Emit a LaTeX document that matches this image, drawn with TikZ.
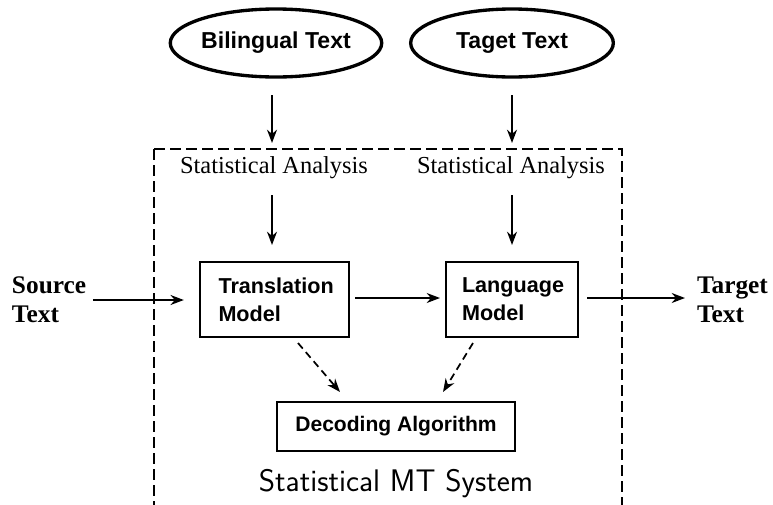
\documentclass[tikz,border=0pt]{standalone}
\usepackage{fontspec}
\setmainfont{Liberation Serif}
\newfontfamily\boxfont{Liberation Sans}
\usetikzlibrary{shapes.geometric,arrows.meta}
\begin{document}
\begin{tikzpicture}[x=0.75pt,y=-0.75pt,
  every node/.style={inner sep=0pt,outer sep=0pt},
  corpus/.style={ellipse,draw,line width=2.5pt,minimum width=152pt,minimum height=51pt,
    font=\boxfont\bfseries\fontsize{17.3}{20}\selectfont},
  modelbox/.style={draw,line width=1.5pt,align=left,
    font=\boxfont\bfseries\fontsize{16.2}{21}\selectfont},
  analysis/.style={font=\fontsize{18.3}{21}\selectfont},
  io/.style={align=left,font=\bfseries\fontsize{19}{22}\selectfont},
  flow/.style={line width=1.4pt,-{Stealth[length=10pt,width=7.5pt]}},
  hint/.style={line width=1.3pt,dash pattern=on 5.5pt off 3.5pt,-{Stealth[length=10pt,width=7.5pt]}},
  frame/.style={line width=1.3pt,dash pattern=on 8pt off 4pt}]
\useasboundingbox (0,0) rectangle (773,504);

% system boundary
\draw[frame] (154,149) -- (622,149) -- (622,508) (154,149) -- (154,508);

% input corpora
\node[corpus] (bil) at (276,43) {Bilingual Text};
\node[corpus] (tgt) at (512,43) {Taget Text};
\coordinate (bilout) at (272,95);
\coordinate (tgtout) at (512,95);

% analysis stage
\node[analysis] (sa1) at (274,168) {Statistical Analysis};
\node[analysis] (sa2) at (511,168) {Statistical Analysis};

% models
\node[modelbox,minimum width=112pt,minimum height=56pt,text width=84pt] (tm) at (274.5,299.5) {Translation\\Model};
\node[modelbox,minimum width=99pt,minimum height=56pt,text width=75pt] (lm) at (512,299.5) {Language\\Model};
\node[modelbox,minimum width=178pt,minimum height=37pt,align=center,
  font=\boxfont\bfseries\fontsize{15.8}{19}\selectfont] (dec) at (396,426.5) {Decoding Algorithm};

% source / target
\node[io,anchor=west] (src) at (12,300) {Source\\Text};
\node[io,anchor=west] (trg) at (697,300) {Target\\Text};

\node[font=\sffamily\fontsize{23.4}{27}\selectfont] (sys) at (396,484) {Statistical MT System};

% connectors
\draw[flow] (bilout) -- (272,143);
\draw[flow] (tgtout) -- (512,143);
\draw[flow] (272,195) -- (272,245);
\draw[flow] (512,195) -- (512,245);
\draw[flow] ([xshift=5pt]src.east) -- ([xshift=-12pt]tm.west |- src.east);
\draw[flow] ([xshift=4.5pt]tm.east |- 0,298) -- ([xshift=-4.5pt]lm.west |- 0,298);
\draw[flow] ([xshift=7pt]lm.east |- 0,298) -- ([xshift=-9pt]trg.west |- 0,298);
\draw[hint] (298,343) -- (340,392);
\draw[hint] (473,343) -- (443,392);
\end{tikzpicture}
\end{document}
